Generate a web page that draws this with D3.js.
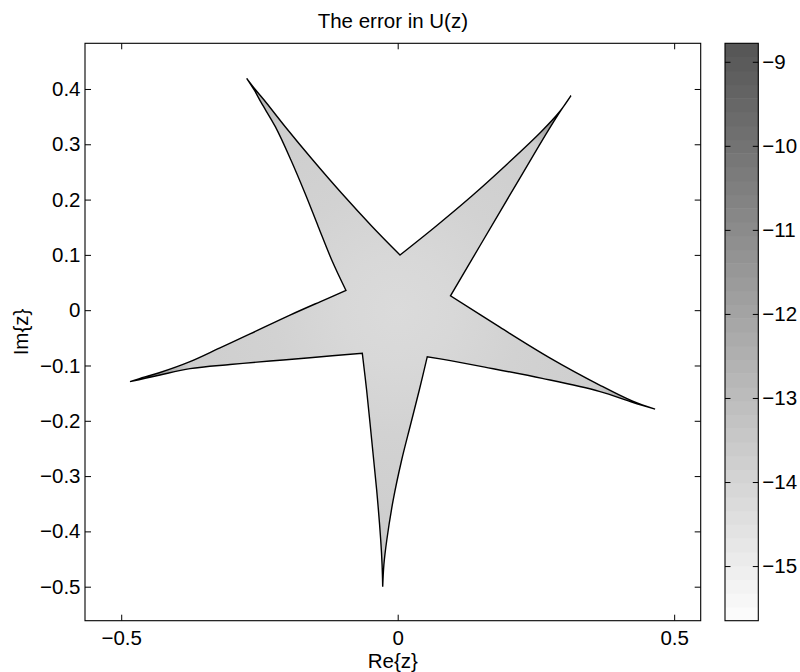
<!DOCTYPE html>
<html>
<head>
<meta charset="utf-8">
<script src="https://cdn.jsdelivr.net/npm/d3@7"></script>
<style>
  body { margin: 0; background: #fff; }
  svg text { font-family: "Liberation Sans", Arial, Helvetica, sans-serif; }
</style>
</head>
<body>
<svg id="chart" width="800" height="672"></svg>
<script>
// star boundary (Re, Im), one list per side,
// going round from the notch at the top
const starEdges = [
  [[0.0042, 0.0998], [0.0703, 0.1528], [0.1351, 0.2074], [0.1977, 0.2640], [0.2590, 0.3222], [0.2935, 0.3597], [0.3134, 0.3879]],
  [[0.3134, 0.3879], [0.2890, 0.3517], [0.2557, 0.2975], [0.2022, 0.2070], [0.1488, 0.1165], [0.0955, 0.0260]],
  [[0.0955, 0.0260], [0.1848, -0.0307], [0.2750, -0.0861], [0.3678, -0.1367], [0.4250, -0.1646], [0.4655, -0.1790]],
  [[0.4655, -0.1790], [0.4246, -0.1665], [0.3644, -0.1467], [0.2613, -0.1233], [0.1575, -0.1029], [0.0953, -0.0913], [0.0535, -0.0841]],
  [[0.0535, -0.0841], [0.0391, -0.1443], [0.0231, -0.2076], [0.0072, -0.2709], [-0.0081, -0.3432], [-0.0197, -0.4156], [-0.0250, -0.4608], [-0.0271, -0.5000]],
  [[-0.0271, -0.5000], [-0.0282, -0.4607], [-0.0307, -0.4156], [-0.0380, -0.3252], [-0.0470, -0.2348], [-0.0562, -0.1443], [-0.0640, -0.0779]],
  [[-0.0640, -0.0779], [-0.1586, -0.0859], [-0.2309, -0.0920], [-0.3033, -0.0982], [-0.3756, -0.1056], [-0.4298, -0.1172], [-0.4570, -0.1233], [-0.4841, -0.1293]],
  [[-0.4841, -0.1293], [-0.4570, -0.1207], [-0.4298, -0.1127], [-0.3756, -0.0931], [-0.3214, -0.0682], [-0.2671, -0.0430], [-0.1948, -0.0089], [-0.1405, 0.0152], [-0.0935, 0.0356]],
  [[-0.0935, 0.0356], [-0.1193, 0.0908], [-0.1436, 0.1510], [-0.1676, 0.2114], [-0.1931, 0.2716], [-0.2213, 0.3318], [-0.2465, 0.3747], [-0.2595, 0.3982], [-0.2731, 0.4193]],
  [[-0.2731, 0.4193], [-0.2568, 0.3982], [-0.2373, 0.3747], [-0.2034, 0.3318], [-0.1535, 0.2716], [-0.1013, 0.2114], [-0.0459, 0.1510], [0.0042, 0.0998]]
];

// log10 error levels: radial profile from the centre, and at each tip
const radialPos = [0, 0.2, 0.45, 0.7, 1];
const radialErr = [-14.25, -14.15, -13.9, -13.75, -13.5];
const tipPoints = [[-0.273, 0.419], [0.313, 0.388], [0.465, -0.179], [-0.027, -0.500], [-0.484, -0.129]];
const tipErr = [-12.6, -10.0, -11.4, -13.4, -10.9];

const xTicks = [-0.5, 0, 0.5];
const yTicks = [-0.5, -0.4, -0.3, -0.2, -0.1, 0, 0.1, 0.2, 0.3, 0.4];
const cTicks = [-15, -14, -13, -12, -11, -10, -9];

const xDomain = [-0.5655, 0.548];
const yDomain = [-0.5615, 0.4826];
const cDomain = [-15.65, -8.78];
const nBands = 42;

const plot = { left: 85, right: 700.7, top: 43.3, bottom: 620.7 };
const cbar = { left: 725, right: 758.3 };
const fontSize = "20.5px";

const svg = d3.select("#chart");
const defs = svg.append("defs");

const x = d3.scaleLinear().domain(xDomain).range([plot.left, plot.right]);
const y = d3.scaleLinear().domain(yDomain).range([plot.bottom, plot.top]);
const c = d3.scaleLinear().domain(cDomain).range([plot.bottom, plot.top]);
const gray = d3.scaleLinear().domain(cDomain).range(["#fdfdfd", "#555555"]);
const fmt = d3.format("~g");

// ---- star outline: each side a smooth curve, corners kept sharp ----
const side = d3.line().x(d => x(d[0])).y(d => y(d[1])).curve(d3.curveCatmullRom.alpha(0.5));
const starPath = starEdges
  .map((e, i) => i ? side(e).replace(/^M/, "L") : side(e))
  .join("") + "Z";

defs.append("clipPath").attr("id", "star-clip")
  .append("path").attr("d", starPath);

const radial = defs.append("radialGradient")
  .attr("id", "err-radial")
  .attr("gradientUnits", "userSpaceOnUse")
  .attr("cx", x(0)).attr("cy", y(0))
  .attr("r", x(0.5) - x(0));
radial.selectAll("stop")
  .data(radialPos)
  .enter()
  .append("stop")
  .attr("offset", d => d)
  .attr("stop-color", (d, i) => gray(radialErr[i]));

tipPoints.forEach((p, i) => {
  const g = defs.append("radialGradient")
    .attr("id", `tip-${i}`)
    .attr("gradientUnits", "userSpaceOnUse")
    .attr("cx", x(p[0])).attr("cy", y(p[1]))
    .attr("r", 60);
  g.append("stop").attr("offset", 0).attr("stop-color", gray(tipErr[i])).attr("stop-opacity", 1);
  g.append("stop").attr("offset", 0.5).attr("stop-color", gray(tipErr[i])).attr("stop-opacity", 0.7);
  g.append("stop").attr("offset", 1).attr("stop-color", gray(tipErr[i])).attr("stop-opacity", 0);
});

const fill = svg.append("g").attr("clip-path", "url(#star-clip)");
fill.append("rect")
  .attr("x", plot.left).attr("y", plot.top)
  .attr("width", plot.right - plot.left).attr("height", plot.bottom - plot.top)
  .style("fill", "url(#err-radial)");
fill.selectAll(".tip")
  .data(tipPoints)
  .enter()
  .append("circle")
  .attr("class", "tip")
  .attr("cx", d => x(d[0]))
  .attr("cy", d => y(d[1]))
  .attr("r", 60)
  .style("fill", (d, i) => `url(#tip-${i})`);

svg.append("path")
  .attr("d", starPath)
  .style("fill", "none")
  .style("stroke", "#000")
  .style("stroke-width", 1.4)
  .style("stroke-linejoin", "miter")
  .style("stroke-miterlimit", 20);

// ---- axes ----
function styleAxis(g) {
  g.select(".domain").remove();
  g.selectAll(".tick line").style("stroke", "#000").style("stroke-width", 1);
  g.selectAll(".tick text").style("font-size", fontSize).style("fill", "#000");
}

svg.append("g")
  .attr("transform", `translate(0,${plot.bottom})`)
  .call(d3.axisBottom(x).tickValues(xTicks).tickSizeInner(-6).tickSizeOuter(0).tickPadding(10).tickFormat(fmt))
  .call(styleAxis);
svg.append("g")
  .attr("transform", `translate(0,${plot.top})`)
  .call(d3.axisTop(x).tickValues(xTicks).tickSizeInner(-6).tickSizeOuter(0).tickFormat(""))
  .call(styleAxis);
svg.append("g")
  .attr("transform", `translate(${plot.left},0)`)
  .call(d3.axisLeft(y).tickValues(yTicks).tickSizeInner(-6).tickSizeOuter(0).tickPadding(4.5).tickFormat(fmt))
  .call(styleAxis);
svg.append("g")
  .attr("transform", `translate(${plot.right},0)`)
  .call(d3.axisRight(y).tickValues(yTicks).tickSizeInner(-6).tickSizeOuter(0).tickFormat(""))
  .call(styleAxis);

svg.append("rect")
  .attr("x", plot.left).attr("y", plot.top)
  .attr("width", plot.right - plot.left).attr("height", plot.bottom - plot.top)
  .style("fill", "none").style("stroke", "#000").style("stroke-width", 1.1);

// ---- colorbar ----
const bandStep = (cDomain[1] - cDomain[0]) / nBands;
svg.append("g")
  .selectAll("rect")
  .data(d3.range(nBands))
  .enter()
  .append("rect")
  .attr("x", cbar.left)
  .attr("width", cbar.right - cbar.left)
  .attr("y", i => c(cDomain[0] + (i + 1) * bandStep))
  .attr("height", i => c(cDomain[0] + i * bandStep) - c(cDomain[0] + (i + 1) * bandStep) + 0.5)
  .style("fill", i => gray(cDomain[0] + (i + 0.5) * bandStep));

svg.append("g")
  .attr("transform", `translate(${cbar.right},0)`)
  .call(d3.axisRight(c).tickValues(cTicks).tickSizeInner(-5.5).tickSizeOuter(0).tickPadding(4).tickFormat(fmt))
  .call(styleAxis);
svg.append("g")
  .attr("transform", `translate(${cbar.left},0)`)
  .call(d3.axisLeft(c).tickValues(cTicks).tickSizeInner(-5.5).tickSizeOuter(0).tickFormat(""))
  .call(styleAxis);

svg.append("rect")
  .attr("x", cbar.left).attr("y", plot.top)
  .attr("width", cbar.right - cbar.left).attr("height", plot.bottom - plot.top)
  .style("fill", "none").style("stroke", "#000").style("stroke-width", 1.1);

// ---- labels ----
svg.append("text")
  .attr("x", (plot.left + plot.right) / 2)
  .attr("y", 27.5)
  .attr("text-anchor", "middle")
  .style("font-size", fontSize)
  .text("The error in U(z)");

svg.append("text")
  .attr("x", (plot.left + plot.right) / 2)
  .attr("y", 667.5)
  .attr("text-anchor", "middle")
  .style("font-size", fontSize)
  .text("Re{z}");

svg.append("text")
  .attr("transform", `translate(28,${(plot.top + plot.bottom) / 2}) rotate(-90)`)
  .attr("text-anchor", "middle")
  .style("font-size", fontSize)
  .text("Im{z}");
</script>
</body>
</html>
